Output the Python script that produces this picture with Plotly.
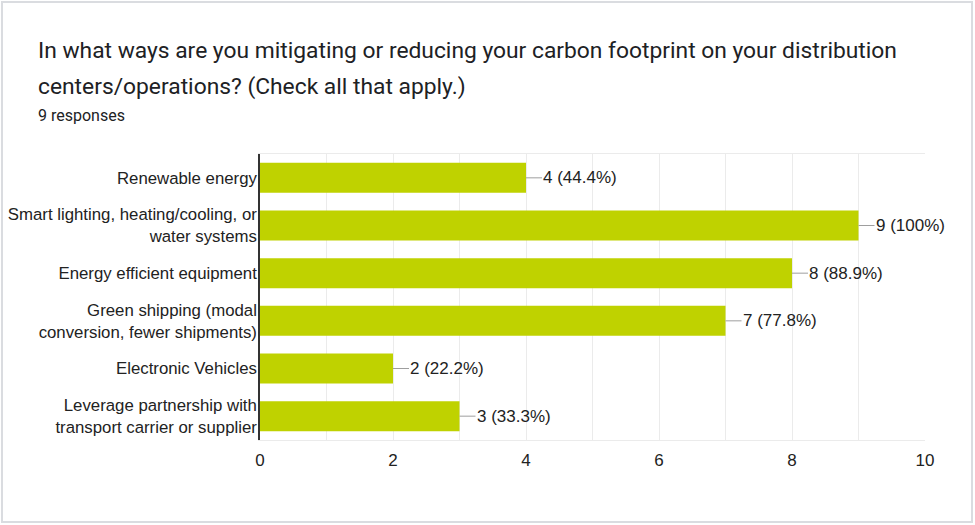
import plotly.graph_objects as go

# Survey answers (multiple choice, check all that apply)
categories = [
    "Renewable energy",
    "Smart lighting, heating/cooling, or<br>water systems",
    "Energy efficient equipment",
    "Green shipping (modal<br>conversion, fewer shipments)",
    "Electronic Vehicles",
    "Leverage partnership with<br>transport carrier or supplier",
]
counts = [4, 9, 8, 7, 2, 3]
total_responses = 9
x_ticks = [0, 2, 4, 6, 8, 10]

title_line1 = "In what ways are you mitigating or reducing your carbon footprint on your distribution"
title_line2 = "centers/operations? (Check all that apply.)"
subtitle = f"{total_responses} responses"

W, H = 975, 525
ML, MR, MT, MB = 260, 50, 154, 85
PW, PH = W - ML - MR, H - MT - MB


def px_x(x):
    return (x - ML) / PW


def px_y(y):
    return 1 - (y - MT) / PH


BAR = "#bfd200"
TEXT = "#222222"
LABEL_FONT = "Liberation Sans, Arial, sans-serif"

fig = go.Figure(
    go.Bar(
        x=counts,
        y=categories,
        orientation="h",
        marker=dict(color=BAR, line=dict(width=0)),
        hoverinfo="skip",
    )
)

annotations = []
for cat, c in zip(categories, counts):
    pct = c / total_responses * 100
    pct_txt = f"{pct:.0f}%" if abs(pct - round(pct)) < 1e-9 else f"{pct:.1f}%"
    annotations.append(dict(
        x=c, y=cat, xref="x", yref="y",
        text=f"{c} ({pct_txt})",
        showarrow=True, arrowhead=0, arrowwidth=1, arrowcolor="#9e9e9e",
        ax=16, ay=0, xanchor="left", standoff=0, startstandoff=0,
        borderpad=0,
        font=dict(family=LABEL_FONT, size=17, color=TEXT),
    ))

annotations += [
    dict(xref="paper", yref="paper", x=px_x(37), y=px_y(51), text=title_line1,
         showarrow=False, xanchor="left", yanchor="middle", borderpad=0,
         font=dict(family="Roboto, sans-serif", size=22.8, color="#202124")),
    dict(xref="paper", yref="paper", x=px_x(37), y=px_y(86), text=title_line2,
         showarrow=False, xanchor="left", yanchor="middle", borderpad=0,
         font=dict(family="Roboto, sans-serif", size=22.8, color="#202124")),
    dict(xref="paper", yref="paper", x=px_x(37), y=px_y(115), text=subtitle,
         showarrow=False, xanchor="left", yanchor="middle", borderpad=0,
         font=dict(family="Roboto, sans-serif", size=16, color="#202124")),
]

fig.update_layout(
    width=W, height=H,
    margin=dict(l=ML, r=MR, t=MT, b=MB, pad=0, autoexpand=False),
    paper_bgcolor="white", plot_bgcolor="white",
    showlegend=False,
    bargap=0.37,
    annotations=annotations,
    shapes=[dict(
        type="rect", xref="paper", yref="paper",
        x0=px_x(2), x1=px_x(972), y0=px_y(522), y1=px_y(2),
        line=dict(color="#dadce0", width=2), fillcolor="rgba(0,0,0,0)", layer="below",
    )],
    xaxis=dict(
        range=[0, 10], tickvals=x_ticks,
        showgrid=True, gridcolor="#ebebeb", gridwidth=1,
        minor=dict(dtick=1, showgrid=True, gridcolor="#ebebeb", gridwidth=1),
        showline=True, linecolor="#ebebeb", linewidth=1, mirror=True,
        zeroline=False, automargin=False,
        ticks="outside", ticklen=5, tickcolor="rgba(0,0,0,0)",
        tickfont=dict(family=LABEL_FONT, size=17, color=TEXT),
        fixedrange=True,
    ),
    yaxis=dict(
        autorange="reversed",
        showgrid=False, zeroline=False, automargin=False,
        showline=True, linecolor="#333333", linewidth=1.5,
        ticks="", ticklabelstandoff=-2,
        tickfont=dict(family=LABEL_FONT, size=16.8, color=TEXT),
        fixedrange=True,
    ),
)

fig.write_html("out.html")
